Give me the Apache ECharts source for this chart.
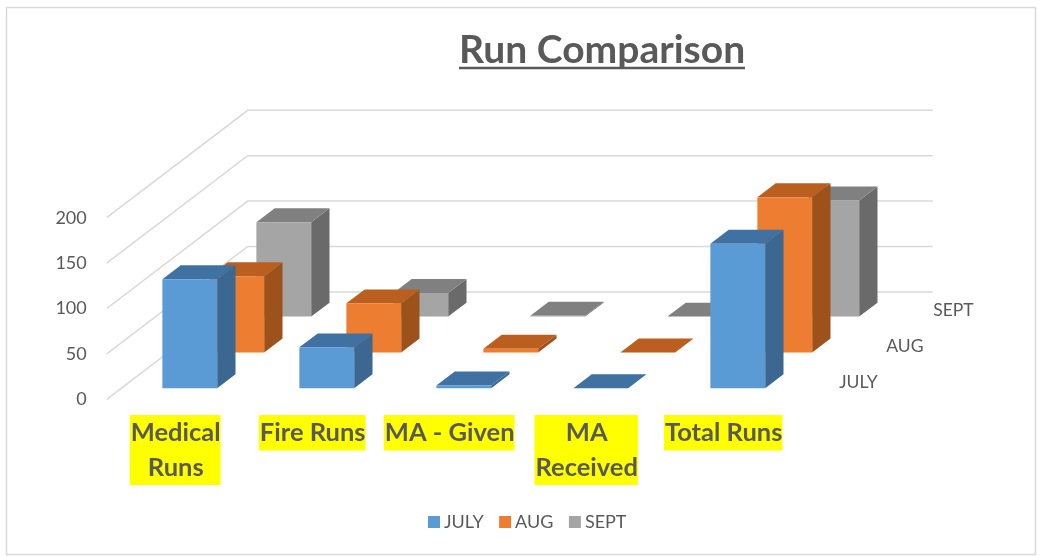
<!DOCTYPE html>
<html>
<head>
<meta charset="utf-8">
<style>
    html, body { margin: 0; padding: 0; background: #fff; }
    #main { width: 1041px; height: 556px; }
</style>
<script src="https://cdn.jsdelivr.net/npm/echarts@6/dist/echarts.min.js"></script>
</head>
<body>
<div id="main"></div>
<script>
const categories = ['Medical\nRuns', 'Fire Runs', 'MA - Given', 'MA\nReceived', 'Total Runs'];
const seriesNames = ['JULY', 'AUG', 'SEPT'];
const julyValues = [120, 45, 3, 0, 159];
const augValues = [84, 54, 4, 0, 171];
const septValues = [104, 26, 1, 0, 128];
const yTicks = [0, 50, 100, 150, 200];

const textColor = '#595959';
const fontName = 'Lato';

// one row of depth on screen
const depthX = 47;
const depthY = 35.8;
const barWidth = 0.4; // share of the band
const barNear = 0.31;
const barFar = 0.70;

const palette = [
    { front: '#5B9BD5', top: '#3F72A2', side: '#3B6790' },
    { front: '#ED7D31', top: '#BA5F1F', side: '#9C521A' },
    { front: '#A5A5A5', top: '#808080', side: '#6A6A6A' }
];

function shift(p, d) {
    return [p[0] + depthX * d, p[1] - depthY * d];
}

function poly(points, color) {
    return {
        type: 'polygon',
        shape: { points: points },
        style: { fill: color }
    };
}

// draws a box from the axis scales, pushed back by its row
function barRenderer(row) {
    return function (params, api) {
        const colors = palette[row];
        const band = api.size([1, 0])[0];
        const base = api.coord([api.value(0), 0]);
        const head = api.coord([api.value(0), api.value(1)]);
        const half = band * barWidth / 2;
        const near = row + barNear;
        const far = row + barFar;
        const bl = shift([base[0] - half, base[1]], near);
        const br = shift([base[0] + half, base[1]], near);
        const tl = shift([head[0] - half, head[1]], near);
        const tr = shift([head[0] + half, head[1]], near);
        const bkl = shift([head[0] - half, head[1]], far);
        const bkr = shift([head[0] + half, head[1]], far);
        const bbr = shift([base[0] + half, base[1]], far);
        return {
            type: 'group',
            children: [
                poly([br, bbr, bkr, tr], colors.side),
                poly([tl, tr, bkr, bkl], colors.top),
                poly([bl, br, tr, tl], colors.front)
            ]
        };
    };
}

function wallRenderer(params, api) {
    const y = api.coord([0, api.value(0)])[1];
    const left = params.coordSys.x;
    const right = left + params.coordSys.width;
    const corner = shift([left, y], 3);
    return {
        type: 'polyline',
        shape: { points: [[left, y], corner, [right + depthX * 3, corner[1]]] },
        style: { fill: null, stroke: '#D9D9D9', lineWidth: 1.5 }
    };
}

function depthLabelRenderer(params, api) {
    const row = api.value(0);
    const right = params.coordSys.x + params.coordSys.width;
    const bottom = params.coordSys.y + params.coordSys.height;
    const p = shift([right, bottom], row + 0.5);
    return {
        type: 'text',
        style: {
            x: p[0] + 24,
            y: p[1] + 0.5,
            text: seriesNames[row],
            fill: textColor,
            font: '17.5px ' + fontName,
            textVerticalAlign: 'middle'
        }
    };
}

function barSeries(row, values) {
    return {
        name: seriesNames[row],
        type: 'custom',
        z: 5 - row,
        silent: true,
        itemStyle: { color: palette[row].front },
        renderItem: barRenderer(row),
        encode: { x: 0, y: 1 },
        data: values.map(function (v, i) {
            return [i, v];
        })
    };
}

function getOption() {
    return {
        animation: false,
        backgroundColor: '#fff',
        title: {
            text: 'Run Comparison',
            left: 454,
            top: 26,
            textStyle: { color: textColor, fontFamily: fontName, fontWeight: 'bold', fontSize: 39 }
        },
        graphic: [
            {
                type: 'rect',
                shape: { x: 6.5, y: 7.5, width: 1029, height: 547 },
                style: { fill: null, stroke: '#D9D9D9', lineWidth: 1.5 },
                z: 0
            },
            {
                type: 'line',
                shape: { x1: 459, y1: 68, x2: 745, y2: 68 },
                style: { stroke: textColor, lineWidth: 2.5 }
            }
        ],
        legend: {
            data: seriesNames,
            left: 423,
            top: 508,
            icon: 'rect',
            itemWidth: 12,
            itemHeight: 12,
            itemGap: 15.5,
            textStyle: { color: textColor, fontFamily: fontName, fontSize: 18, padding: [0, 0, 0, -1] }
        },
        grid: { left: 106.7, top: 217.7, width: 685, height: 181.6 },
        xAxis: {
            type: 'category',
            data: categories,
            axisLine: { show: false },
            axisTick: { show: false },
            axisLabel: {
                interval: 0,
                margin: 15.7,
                color: textColor,
                fontFamily: fontName,
                fontWeight: 'bold',
                fontSize: 25.5,
                lineHeight: 34.5,
                verticalAlign: 'top',
                backgroundColor: '#FFFF00',
                padding: [1, 0, 0, 1]
            }
        },
        yAxis: {
            type: 'value',
            min: 0,
            max: 200,
            interval: 50,
            axisLine: { show: false },
            axisTick: { show: false },
            splitLine: { show: false },
            axisLabel: {
                margin: 20,
                color: textColor,
                fontFamily: fontName,
                fontSize: 18
            }
        },
        series: [
            {
                name: 'wall',
                type: 'custom',
                z: 1,
                silent: true,
                renderItem: wallRenderer,
                encode: { y: 0 },
                data: yTicks.map(function (v) {
                    return [v];
                })
            },
            {
                name: 'depth',
                type: 'custom',
                z: 1,
                silent: true,
                renderItem: depthLabelRenderer,
                data: seriesNames.map(function (n, i) {
                    return [i];
                })
            },
            barSeries(0, julyValues),
            barSeries(1, augValues),
            barSeries(2, septValues)
        ]
    };
}

const chart = echarts.init(document.getElementById('main'));
chart.setOption(getOption());
</script>
</body>
</html>
